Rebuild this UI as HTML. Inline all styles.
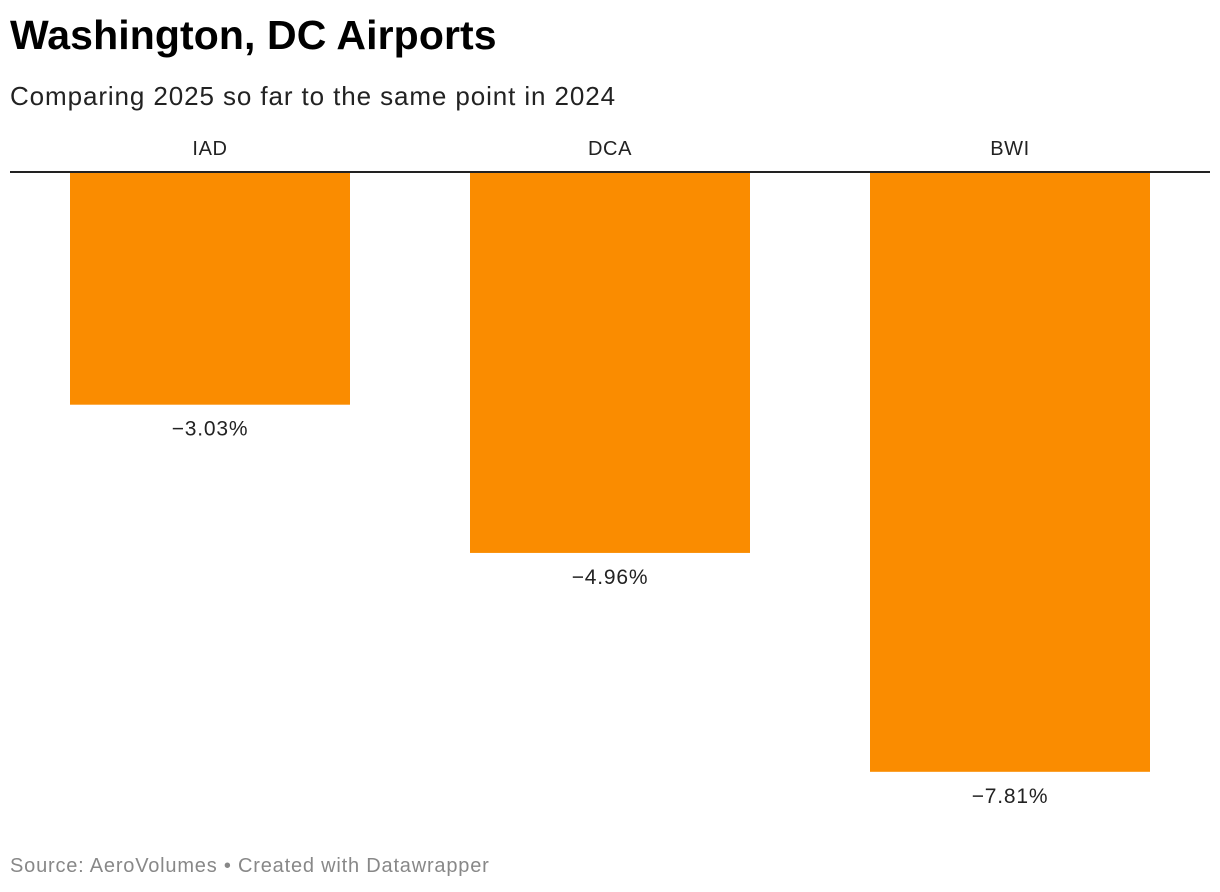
<!DOCTYPE html>
<html><head><meta charset="utf-8"><style>
body{margin:0;width:1220px;height:892px;background:#fff;font-family:"Liberation Sans",Arial,sans-serif;overflow:hidden;position:relative}
#title{position:absolute;left:10px;top:12px;font-size:41px;font-weight:bold;color:#000;letter-spacing:0.1px}
#sub{position:absolute;left:10px;top:81px;font-size:26px;color:#222;letter-spacing:0.9px}
#src{position:absolute;left:10px;top:855px;font-size:20px;color:#888;letter-spacing:0.8px}
svg{position:absolute;left:0;top:0}
</style></head><body>
<div id="title">Washington, DC Airports</div>
<div id="sub">Comparing 2025 so far to the same point in 2024</div>
<svg id="chart" width="1220" height="892"></svg>
<div id="src">Source: AeroVolumes • Created with Datawrapper</div>
<script>
const categories=["IAD","DCA","BWI"];
const values=[-3.03,-4.96,-7.81];
const labels=["−3.03%","−4.96%","−7.81%"];
const svg=document.getElementById('chart');
const NS="http://www.w3.org/2000/svg";
const baseY=172,pxPer=76.8,colW=400,left=10,barW=280;
function y(v){return baseY-v*pxPer;}
function xc(i){return left+colW*i+colW/2;}
categories.forEach((c,i)=>{
  const r=document.createElementNS(NS,'rect');
  r.setAttribute('x',xc(i)-barW/2);r.setAttribute('y',baseY);
  r.setAttribute('width',barW);r.setAttribute('height',y(values[i])-baseY);
  r.setAttribute('fill','#fa8c00');
  
  
  svg.appendChild(r);
  const t=document.createElementNS(NS,'text');
  t.setAttribute('x',xc(i));t.setAttribute('y',155);t.setAttribute('text-anchor','middle');
  t.setAttribute('font-size','20');t.setAttribute('fill','#222');t.setAttribute('font-family','Liberation Sans, sans-serif');
  t.setAttribute('letter-spacing','0.6');
  t.textContent=c;
  
  
  svg.appendChild(t);
  const v=document.createElementNS(NS,'text');
  v.setAttribute('x',xc(i));v.setAttribute('y',y(values[i])+31);v.setAttribute('text-anchor','middle');
  v.setAttribute('font-size','21');v.setAttribute('fill','#222');v.setAttribute('font-family','Liberation Sans, sans-serif');
  v.setAttribute('letter-spacing','0.8');
  v.textContent=labels[i];
  
  
  svg.appendChild(v);
});
const l=document.createElementNS(NS,'line');
l.setAttribute('x1',10);l.setAttribute('x2',1210);l.setAttribute('y1',baseY);l.setAttribute('y2',baseY);
l.setAttribute('stroke','#222');l.setAttribute('stroke-width','2');


svg.appendChild(l);
</script>
</body></html>
